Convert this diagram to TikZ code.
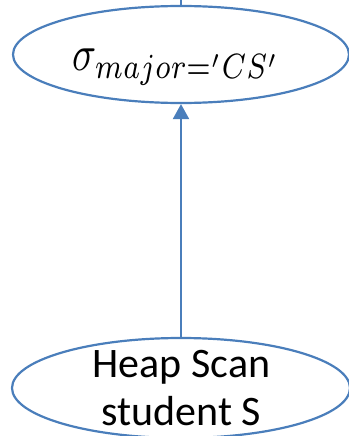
\documentclass[tikz,border=0pt]{standalone}
\usepackage{fontspec}
\setmainfont{Carlito}
\usetikzlibrary{shapes.geometric,arrows.meta}
\definecolor{lineblue}{HTML}{4A7EBB}
\begin{document}
\begin{tikzpicture}[x=1pt,y=-1pt,
  oval/.style={draw=lineblue,line width=2.2pt,ellipse,inner sep=0pt},
  conn/.style={draw=lineblue,line width=2.2pt},
  lbl/.style={font=\fontsize{42}{50}\selectfont,inner sep=0pt}]
\useasboundingbox (0,0) rectangle (348,436);
\node[oval,minimum width=336pt,minimum height=97pt] (sel) at (181,54.5) {};
\node[oval,minimum width=338pt,minimum height=100pt] (scan) at (181,388) {};
\node[lbl,anchor=base] (t1) at (181.5,377) {Heap Scan};
\node[lbl,anchor=base] (t2) at (181.5,425.5) {student S};
\node[inner sep=0pt,anchor=north west] (m) at (72,49) {\resizebox*{208pt}{36pt}{$\sigma_{major={}'CS'}$}};
\coordinate (top) at (181,0);
\draw[conn] (sel.north) -- (top);
\draw[conn,-{Triangle[width=16pt,length=15pt]}] (scan.north) -- (sel.south);
\end{tikzpicture}
\end{document}
